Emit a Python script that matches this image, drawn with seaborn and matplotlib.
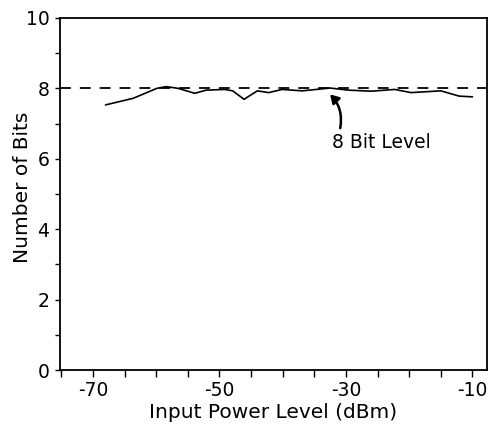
import numpy as np
import pandas as pd
import seaborn as sns
from matplotlib import pyplot as plt
from matplotlib.ticker import MultipleLocator, FixedLocator

# values
power_dbm = [-68.0, -63.6, -59.9, -58.4, -56.5, -53.9, -52.1, -49.2, -47.9, -46.1,
             -44.0, -42.2, -40.1, -36.9, -32.5, -29.6, -26.0, -22.3, -19.7, -15.0,
             -12.1, -10.0]
n_bits = [7.53, 7.72, 8.00, 8.05, 8.00, 7.86, 7.95, 7.97, 7.93, 7.69,
          7.93, 7.88, 7.97, 7.93, 8.01, 7.95, 7.92, 7.97, 7.88, 7.93,
          7.78, 7.76]
bit_level = 8
x_ticks = [-70, -50, -30, -10]
y_ticks = [0, 2, 4, 6, 8, 10]

sns.set_style("ticks")
plt.rcParams["font.family"] = ["DejaVu Sans"]
plt.rcParams["axes.unicode_minus"] = False
plt.rcParams["text.color"] = "black"
plt.rcParams["axes.labelcolor"] = "black"
plt.rcParams["xtick.color"] = "black"
plt.rcParams["ytick.color"] = "black"
plt.rcParams["axes.edgecolor"] = "black"

df = pd.DataFrame({"power": power_dbm, "bits": n_bits})

fig = plt.figure(figsize=(4.9, 4.28), dpi=100)
ax = fig.add_axes([0.1224, 0.1355, 0.8715, 0.8225])

sns.lineplot(data=df, x="power", y="bits", ax=ax, color="black", linewidth=1.2)
ax.axhline(bit_level, color="black", linewidth=1.3, dashes=(6, 5))

ax.set_xlim(-75.2, -7.7)
ax.set_ylim(0, 10)
ax.xaxis.set_major_locator(FixedLocator(x_ticks))
ax.xaxis.set_minor_locator(MultipleLocator(5))
ax.yaxis.set_major_locator(FixedLocator(y_ticks))
ax.yaxis.set_minor_locator(MultipleLocator(1))
ax.tick_params(axis="x", which="both", direction="out", length=5, width=1,
               labelsize=13.5, pad=3)
ax.tick_params(axis="y", which="both", direction="out", length=3.5, width=1,
               labelsize=13.5, pad=4)

for side in ["top", "right", "left", "bottom"]:
    ax.spines[side].set_linewidth(1.3)
    ax.spines[side].set_visible(True)

ax.set_xlabel("Input Power Level (dBm)", fontsize=14.5, labelpad=2)
ax.set_ylabel("Number of Bits", fontsize=14.5)
ax.yaxis.set_label_coords(-0.066, 0.52)

ax.text(-32.2, 6.45, "8 Bit Level", fontsize=13.5, ha="left", va="center")
ax.annotate("", xy=(-32.5, 7.83), xytext=(-30.9, 6.87),
            arrowprops=dict(arrowstyle="-|>,head_length=0.5,head_width=0.3",
                            color="black", lw=1.8,
                            connectionstyle="arc3,rad=0.25",
                            shrinkA=0, shrinkB=0))

plt.savefig("out.png", dpi=100)
